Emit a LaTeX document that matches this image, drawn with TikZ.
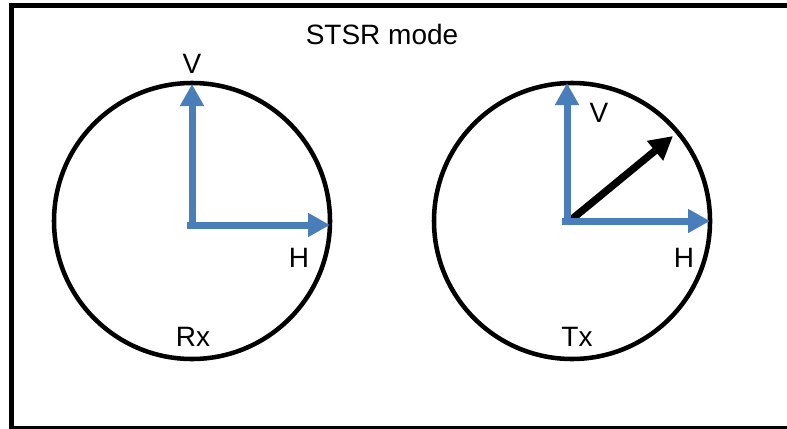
\documentclass[tikz,border=0pt]{standalone}
\usepackage{fontspec}
\setmainfont{Liberation Sans}
\usetikzlibrary{arrows.meta}
\definecolor{polblue}{RGB}{74,126,187}
\tikzset{
  frame/.style={draw=black, line width=3.75pt},
  dial/.style={circle, draw=black, line width=3.4pt, minimum size=207pt, inner sep=0pt, outer sep=0pt},
  polarrow/.style={draw=polblue, line width=5.25pt, -{Triangle[length=16.5pt, width=17pt]}},
  txarrow/.style={draw=black, line width=5.5pt, -{Triangle[length=17.5pt, width=18pt]}},
  lbl/.style={font=\fontsize{21pt}{24pt}\selectfont, inner sep=0pt}
}
\begin{document}
\begin{tikzpicture}[x=0.75pt, y=-0.75pt]
  \useasboundingbox (0,0) rectangle (787,428);
  \clip (0,0) rectangle (787,428);
  % outer frame, running off the right and bottom edges
  \draw[frame] (11,5.5) rectangle (820,428);
  \node[lbl] (title) at (382,34) {STSR mode};

  % receiver dial
  \node[dial] (rx) at (192,221) {};
  \coordinate (rxo) at (192,225);
  \coordinate (rxv) at (192,84);
  \coordinate (rxh) at (330,225);
  \draw[polarrow] (rxo) -- (rxv);
  \draw[polarrow] ([xshift=-3.5]rxo) -- (rxh);
  \node[lbl] (rxV) at (192,64) {V};
  \node[lbl] (rxH) at (299,258) {H};
  \node[lbl] (rxname) at (193,337) {Rx};

  % transmitter dial
  \node[dial] (tx) at (572,221) {};
  \coordinate (txo) at (567,221);
  \coordinate (txv) at (567,83);
  \coordinate (txh) at (710,221);
  \coordinate (txp) at (673,136);
  \draw[txarrow] ([xshift=2]txo) -- (txp);
  \draw[polarrow] (txo) -- (txv);
  \draw[polarrow] ([xshift=-3.5]txo) -- (txh);
  \node[lbl] (txV) at (599,113) {V};
  \node[lbl] (txH) at (684,258) {H};
  \node[lbl] (txname) at (577,337) {Tx};
\end{tikzpicture}
\end{document}
